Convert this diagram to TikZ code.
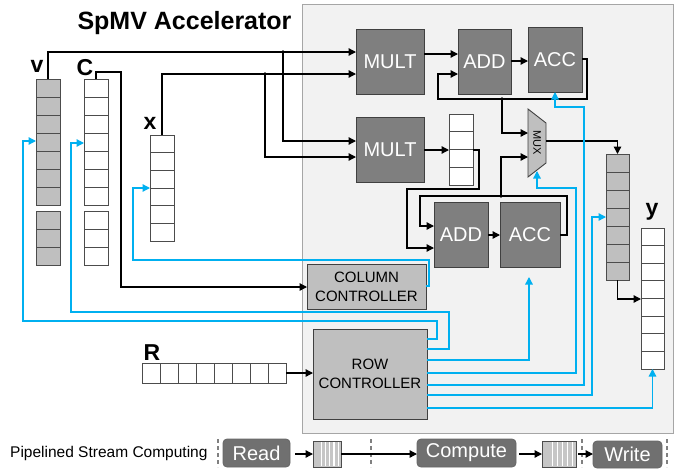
\documentclass[tikz,border=0pt]{standalone}
\usepackage{fontspec}
\setmainfont{Liberation Sans}
\usetikzlibrary{arrows.meta,calc}
\definecolor{panel}{HTML}{F2F2F2}
\definecolor{panelline}{HTML}{A6A6A6}
\definecolor{darkblk}{HTML}{7F7F7F}
\definecolor{lightblk}{HTML}{BFBFBF}
\definecolor{blueln}{HTML}{00B0F0}
\definecolor{legfill}{HTML}{707070}
\begin{document}
\begin{tikzpicture}[x=1pt,y=-1pt,
  wire/.style={draw=black, line width=1.3pt},
  warr/.style={wire, -{Triangle[length=7.5pt,width=7.5pt]}},
  bwire/.style={draw=blueln, line width=1.3pt, -{Triangle[length=7.5pt,width=7.5pt]}},
  dblk/.style={draw=black!75, line width=0.9pt, fill=darkblk, text=white, font=\fontsize{20}{22}\selectfont, inner sep=0pt, outer sep=0pt},
  lblk/.style={draw=black!75, line width=0.9pt, fill=lightblk, font=\fontsize{15}{19}\selectfont, align=center, inner sep=0pt, outer sep=0pt},
  arrw/.style={draw=black!70, line width=0.9pt, inner sep=0pt, outer sep=0pt},
  cell/.style={draw=black!70, line width=0.9pt},
  lab/.style={font=\fontsize{23}{23}\selectfont\bfseries, anchor=base},
  dot/.style={circle, fill=black, inner sep=0pt, minimum size=3.6pt},
  leg/.style={draw=black!60, line width=0.8pt, fill=legfill, rounded corners=4pt, text=white, font=\fontsize{20}{22}\selectfont, inner sep=0pt, outer sep=0pt},
  legsep/.style={draw=gray, line width=1.2pt, dash pattern=on 4pt off 3pt},
  legbuf/.style={draw=black!70, line width=0.8pt, fill=gray!45, inner sep=0pt, outer sep=0pt}
]
\useasboundingbox (0,0) rectangle (689,472);
% panel
\draw[draw=panelline, fill=panel, line width=1pt] (302,4) rectangle (673,433);
\node[font=\fontsize{25}{25}\selectfont\bfseries, anchor=base west] (title) at (74,29) {SpMV Accelerator};

% labels
\node[lab] (lv) at (37,72) {v};
\node[lab] (lc) at (85,75) {C};
\node[lab] (lx) at (150,129) {x};
\node[lab] (ly) at (652,215) {y};
\node[lab] (lr) at (152,360) {R};

% arrays
\node[arrw, fill=lightblk, minimum width=24pt, minimum height=126pt] (vA) at (48,142) {};
\node[arrw, fill=lightblk, minimum width=24pt, minimum height=54pt] (vB) at (48,238) {};
\node[arrw, fill=white, minimum width=24pt, minimum height=126pt] (CA) at (96,142) {};
\node[arrw, fill=white, minimum width=24pt, minimum height=54pt] (CB) at (96,238.5) {};
\node[arrw, fill=white, minimum width=24pt, minimum height=106pt] (xA) at (162,188) {};
\node[arrw, fill=white, minimum width=23pt, minimum height=141pt] (yA) at (652.5,298.5) {};
\node[arrw, fill=lightblk, minimum width=23pt, minimum height=126pt] (gbuf) at (617.5,217) {};
\node[arrw, fill=white, minimum width=24pt, minimum height=71pt] (sbuf) at (461,149.5) {};
\node[arrw, fill=white, minimum width=144pt, minimum height=20pt] (RA) at (214,373) {};
\foreach \n/\k in {vA/7,CA/7,xA/6,yA/8,gbuf/7,sbuf/4,vB/3,CB/3}{
  \pgfmathtruncatemacro{\km}{\k-1}
  \foreach \i in {1,...,\km}{
    \draw[cell] ($(\n.north west)!\i/\k!(\n.south west)$) -- ($(\n.north east)!\i/\k!(\n.south east)$);
  }
}
\foreach \i in {1,...,7}{
  \draw[cell] ($(RA.north west)!\i/8!(RA.north east)$) -- ($(RA.south west)!\i/8!(RA.south east)$);
}

% blocks
\node[dblk, minimum width=68pt, minimum height=65pt] (MULT1) at (390,61.5) {MULT};
\node[dblk, minimum width=68pt, minimum height=65pt] (MULT2) at (390,149.5) {MULT};
\node[dblk, minimum width=53pt, minimum height=65pt] (ADD1) at (484.5,61.5) {ADD};
\node[dblk, minimum width=54pt, minimum height=65pt] (ACC1) at (555,59.5) {ACC};
\node[dblk, minimum width=54pt, minimum height=65pt] (ADD2) at (461,234.5) {ADD};
\node[dblk, minimum width=60pt, minimum height=65pt] (ACC2) at (530,234.5) {ACC};
\node[lblk, minimum width=119pt, minimum height=45pt] (COL) at (366.5,286.5) {COLUMN\\CONTROLLER};
\node[lblk, minimum width=114pt, minimum height=90pt] (ROW) at (370,374) {ROW\\CONTROLLER};

% MUX
\draw[draw=black!75, line width=0.9pt, fill=lightblk] (528,109) -- (546,123) -- (546,163) -- (528,177) -- cycle;
\node[rotate=-90, font=\fontsize{11}{11}\selectfont, inner sep=0pt] (MUX) at (537,143) {MUX};
\coordinate (muxin1) at (528,133);
\coordinate (muxin2) at (528,157);
\coordinate (muxout) at (546,141);
\coordinate (muxsel) at (537,171);

% black connectors
\coordinate (j1) at (283,52);
\coordinate (j2) at (265,74);
\draw[warr] (vA.north) |- (MULT1.west |- j1);
\draw[warr] (j1) |- (MULT2.west |- 0,141);
\draw[warr] (xA.north) |- (MULT1.west |- j2);
\draw[warr] (j2) |- (MULT2.west |- 0,157);
\node[dot] at (j1) {};
\node[dot] at (j2) {};
\draw[warr] (CA.north) -- (96,72) -- (121,72) -- (121,287) -- (COL.west |- 0,287);

\draw[warr] (MULT1.east |- 0,54) -- (ADD1.west |- 0,54);
\draw[warr] (ADD1.east |- 0,61) -- (ACC1.west |- 0,61);
\coordinate (j3) at (502,99);
\draw[warr] (ACC1.east |- 0,59) -- (587,59) -- (587,99) -- (438,99) -- (438,74) -- (ADD1.west |- 0,74);
\draw[warr] (j3) |- (muxin1);
\node[dot] at (j3) {};

\draw[warr] (MULT2.east |- 0,150) -- (sbuf.west |- 0,150);
\draw[warr] (sbuf.east |- 0,150) -- (479,150) -- (479,189) -- (407,189) -- (407,248) -- (ADD2.west |- 0,248);
\draw[warr] (ADD2.east |- 0,235) -- (ACC2.west |- 0,235);
\coordinate (j4) at (501,196);
\draw[warr] (ACC2.east |- 0,235) -- (567,235) -- (567,196) -- (420,196) -- (420,226) -- (ADD2.west |- 0,226);
\draw[warr] (j4) |- (muxin2);
\node[dot] at (j4) {};

\draw[warr] (muxout) -| (gbuf.north);
\draw[warr] (gbuf.south) |- (yA.west |- 0,299);
\draw[warr] (RA.east) -- (RA.east -| ROW.west);

% blue connectors
\coordinate (acc2rst) at (529,277);
\draw[bwire] (ROW.east |- 0,339) -- (437,339) -- (437,321) -- (23,321) -- (23,141) -- (vA.west |- 0,141);
\draw[bwire] (ROW.east |- 0,349) -- (449,349) -- (449,312) -- (71,312) -- (71,143) -- (CA.west |- 0,143);
\draw[bwire] (COL.east |- 0,286) -- (429,286) -- (429,260) -- (133,260) -- (133,188) -- (xA.west |- 0,188);
\draw[bwire] (ROW.east |- 0,360) -| (acc2rst);
\draw[bwire] (ROW.east |- 0,373) -- (576,373) -- (576,188) -- (537,188) -- (muxsel);
\draw[bwire] (ROW.east |- 0,385) -- (584,385) -- (584,107) -- (555,107) -- (ACC1.south |- 0,92);
\draw[bwire] (ROW.east |- 0,395) -- (592,395) -- (592,217) -- (gbuf.west |- 0,217);
\draw[bwire] (ROW.east |- 0,408) -| (yA.south);

% legend
\node[font=\fontsize{15.5}{17}\selectfont, anchor=west, inner sep=0pt] (legtxt) at (10,453) {Pipelined Stream Computing};
\foreach \xx in {218,371,582,667}{
  \draw[legsep] (\xx,439) -- (\xx,467);
}
\node[leg, minimum width=67pt, minimum height=28pt] (read) at (256.5,453) {Read};
\node[leg, minimum width=99pt, minimum height=28pt] (comp) at (466.5,453) {Compute};
\node[leg, minimum width=69pt, minimum height=27pt] (write) at (627.5,454.5) {Write};
\node[legbuf, minimum width=28pt, minimum height=26pt] (buf1) at (327,454) {};
\node[legbuf, minimum width=34pt, minimum height=26pt] (buf2) at (559,454) {};
\foreach \b in {buf1,buf2}{
  \foreach \f in {0.3,0.45,0.6,0.75,0.9}{
    \draw[white, line width=1.2pt] ($(\b.north west)!\f!(\b.north east)+(0,1)$) -- ($(\b.south west)!\f!(\b.south east)+(0,-1)$);
  }
}
\draw[warr, shorten <=5pt] (read.east |- buf1.west) -- (buf1.west);
\draw[warr] (buf1.east) -- (comp.west |- buf1.east);
\draw[warr, shorten <=3pt] (comp.east |- buf2.west) -- (buf2.west);
\draw[warr, shorten <=2pt] (buf2.east) -- (write.west |- buf2.east);
\end{tikzpicture}
\end{document}
